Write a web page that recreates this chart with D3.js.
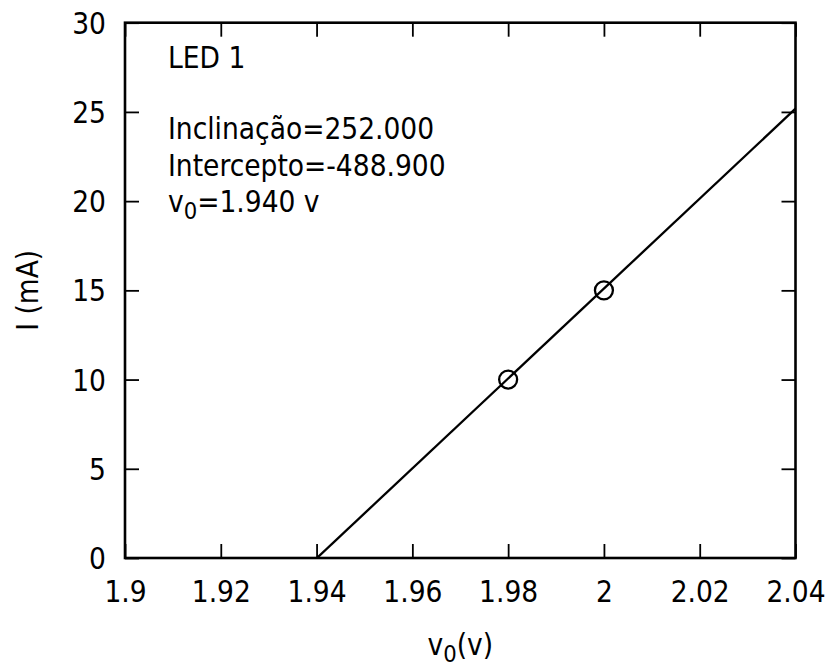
<!DOCTYPE html>
<html>
<head>
<meta charset="utf-8">
<script src="https://cdn.jsdelivr.net/npm/d3@7"></script>
<style>
  html, body { margin: 0; padding: 0; background: #fff; }
  svg { display: block; }
  text { font-family: "DejaVu Sans Condensed", "DejaVu Sans", sans-serif; font-stretch: condensed; fill: #000; }
</style>
</head>
<body>
<svg id="chart" width="833" height="669"></svg>
<script>
// ---- data ----
const voltages = [1.98, 2.00];
const currents = [10, 15];
const slope = [252.000];
const intercept = [-488.900];
const v0 = [1.940];
const xTicks = [1.9, 1.92, 1.94, 1.96, 1.98, 2.0, 2.02, 2.04];
const yTicks = [0, 5, 10, 15, 20, 25, 30];
const xDomain = [1.9, 2.04];
const yDomain = [0, 30];
const title = "LED 1";

// ---- layout ----
const W = 833, H = 669;
const m = { left: 125, right: 795.5, top: 22.7, bottom: 558 };
const fs = 29.5;

const svg = d3.select("#chart");
const x = d3.scaleLinear().domain(xDomain).range([m.left, m.right]);
const y = d3.scaleLinear().domain(yDomain).range([m.bottom, m.top]);

svg.append("defs").append("clipPath").attr("id", "clip")
  .append("rect").attr("x", m.left).attr("y", m.top)
  .attr("width", m.right - m.left).attr("height", m.bottom - m.top);

const fmtX = d => (d === 2 ? "2" : String(+d.toFixed(2)));

// bottom axis
const gB = svg.append("g").attr("transform", `translate(0,${m.bottom})`)
  .call(d3.axisBottom(x).tickValues(xTicks).tickFormat(fmtX).tickSize(-14).tickSizeOuter(0));
// top axis
const gT = svg.append("g").attr("transform", `translate(0,${m.top})`)
  .call(d3.axisTop(x).tickValues(xTicks).tickFormat("").tickSize(-14).tickSizeOuter(0));
// left axis
const gL = svg.append("g").attr("transform", `translate(${m.left},0)`)
  .call(d3.axisLeft(y).tickValues(yTicks).tickSize(-14).tickSizeOuter(0));
// right axis
const gR = svg.append("g").attr("transform", `translate(${m.right},0)`)
  .call(d3.axisRight(y).tickValues(yTicks).tickFormat("").tickSize(-14).tickSizeOuter(0));

[gB, gT, gL, gR].forEach(g => {
  g.select(".domain").remove();
  g.selectAll(".tick line").attr("stroke", "#000").attr("stroke-width", 1.8);
  g.selectAll("text").attr("font-size", fs).attr("font-family", null).attr("fill", "#000");
});
gB.selectAll(".tick text").attr("dy", null).attr("y", 44);
gL.selectAll(".tick text").attr("dy", "0.36em").attr("x", -19);

// frame
svg.append("rect").attr("x", m.left).attr("y", m.top)
  .attr("width", m.right - m.left).attr("height", m.bottom - m.top)
  .attr("fill", "none").attr("stroke", "#000").attr("stroke-width", 2.6);

// fitted line
const lineData = xDomain.map(v => ({ v, i: slope[0] * v + intercept[0] }));
svg.append("path").datum(lineData)
  .attr("clip-path", "url(#clip)")
  .attr("fill", "none").attr("stroke", "#000").attr("stroke-width", 2.3)
  .attr("d", d3.line().x(d => x(d.v)).y(d => y(d.i)));

// points
svg.append("g").selectAll("circle").data(voltages.map((v, k) => ({ v, i: currents[k] })))
  .join("circle")
  .attr("cx", d => x(d.v)).attr("cy", d => y(d.i)).attr("r", 9)
  .attr("fill", "none").attr("stroke", "#000").attr("stroke-width", 2.3);

// annotations
const ax = 168;
svg.append("text").attr("x", ax).attr("y", 68).attr("font-size", fs).text(title);
svg.append("text").attr("x", ax).attr("y", 139).attr("font-size", fs)
  .text("Inclinação=" + slope[0].toFixed(3));
svg.append("text").attr("x", ax).attr("y", 176).attr("font-size", fs)
  .text("Intercepto=" + intercept[0].toFixed(3));
const t3 = svg.append("text").attr("x", ax).attr("y", 212).attr("font-size", fs);
t3.append("tspan").text("v");
t3.append("tspan").attr("font-size", fs * 0.8).attr("dy", 7).text("0");
t3.append("tspan").attr("dy", -7).text("=" + v0[0].toFixed(3) + " v");

// x label
const xl = svg.append("text").attr("x", (m.left + m.right) / 2).attr("y", 655)
  .attr("font-size", fs).attr("text-anchor", "middle");
xl.append("tspan").text("v");
xl.append("tspan").attr("font-size", fs * 0.8).attr("dy", 7).text("0");
xl.append("tspan").attr("dy", -7).text("(v)");

// y label
svg.append("text")
  .attr("transform", `translate(38,${(m.top + m.bottom) / 2}) rotate(-90)`)
  .attr("font-size", fs).attr("text-anchor", "middle").text("I (mA)");
</script>
</body>
</html>
